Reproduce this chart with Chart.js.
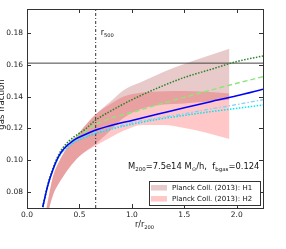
<!DOCTYPE html>
<html lang="en">
<head>
<meta charset="UTF-8">
<title>gas fraction</title>
<script src="https://cdn.jsdelivr.net/npm/chart.js"></script>
<style>
  body { margin: 0; background: #fff; }
  #wrap { width: 286px; height: 249px; }
</style>
</head>
<body>
<div id="wrap"><canvas id="chart" width="286" height="249"></canvas></div>
<script>
// radius grid (r/r200) for the model curves
const rCurve = [0.15, 0.2, 0.25, 0.3, 0.35, 0.45, 0.55, 0.65, 0.8, 1.0, 1.25, 1.5, 1.75, 2.0, 2.25];
const fBlue     = [0.0706, 0.0845, 0.0945, 0.1022, 0.1070, 0.1128, 0.1160, 0.1188, 0.1218, 0.1250, 0.1290, 0.1330, 0.1368, 0.1405, 0.1446];
const fDotGreen = [0.0706, 0.0852, 0.0955, 0.1033, 0.1085, 0.1148, 0.1192, 0.1250, 0.1310, 0.1380, 0.1455, 0.1520, 0.1570, 0.1620, 0.1655];
const fDashGreen= [0.0706, 0.0848, 0.0948, 0.1025, 0.1074, 0.1135, 0.1177, 0.1222, 0.1265, 0.1300, 0.1350, 0.1395, 0.1440, 0.1483, 0.1525];
const fDashDot  = [0.0706, 0.0845, 0.0945, 0.1018, 0.1065, 0.1118, 0.1150, 0.1175, 0.1200, 0.1235, 0.1265, 0.1292, 0.1322, 0.1350, 0.1380];
const fCyan     = [0.0706, 0.0845, 0.0945, 0.1015, 0.1060, 0.1112, 0.1143, 0.1168, 0.1195, 0.1226, 0.1257, 0.1282, 0.1305, 0.1326, 0.1347];

// Planck bands
const rBand = [0.18, 0.25, 0.3, 0.4, 0.5, 0.65, 0.8, 0.92, 1.1, 1.3, 1.5, 1.7, 1.93];
const h1Lo = [0.062, 0.0785, 0.0850, 0.0950, 0.1025, 0.1100, 0.1190, 0.1265, 0.1325, 0.1350, 0.1357, 0.1367, 0.1380];
const h1Hi = [0.068, 0.0904, 0.0985, 0.1095, 0.1175, 0.1285, 0.1370, 0.1440, 0.1495, 0.1555, 0.1605, 0.1650, 0.1700];
const h2Lo = [0.062, 0.0785, 0.0850, 0.0950, 0.1025, 0.1090, 0.1145, 0.1185, 0.1222, 0.1222, 0.1203, 0.1175, 0.1133];
const h2Hi = [0.068, 0.0904, 0.0985, 0.1095, 0.1175, 0.1285, 0.1355, 0.1400, 0.1425, 0.1433, 0.1435, 0.1430, 0.1420];

const r500 = 0.655;
const fBaryon = 0.161;
const xTicks = [0, 0.5, 1.0, 1.5, 2.0];
const yTicks = [0.08, 0.10, 0.12, 0.14, 0.16, 0.18];
const legendLabels = ['Planck Coll. (2013): H1', 'Planck Coll. (2013): H2'];

const H1_COLOR = 'rgba(165,42,42,0.25)';
const H2_COLOR = 'rgba(255,0,0,0.22)';
const FONT = '"DejaVu Sans", sans-serif';

const pts = (xs, ys) => xs.map((x, i) => ({ x: x, y: ys[i] }));

const curve = (data, color, dash, width) => ({
    data: data, borderColor: color, borderDash: dash, borderWidth: width,
    pointRadius: 0, fill: false, cubicInterpolationMode: 'monotone'
});

const datasets = [
    curve(pts(rCurve, fBlue), '#0000ff', [], 1.5),
    curve(pts(rCurve, fDotGreen), 'rgb(40,130,40)', [1.5, 1.5], 1.5),
    curve(pts(rCurve, fDashGreen), 'rgb(140,230,120)', [5, 3], 1.5),
    curve(pts(rCurve, fDashDot), 'rgb(135,206,250)', [4, 2, 1.5, 2], 1.3),
    curve(pts(rCurve, fCyan), 'rgb(0,230,240)', [1.5, 1.5], 1.5),
    // reference lines
    { data: [{ x: 0, y: fBaryon }, { x: 2.25, y: fBaryon }], borderColor: '#444', borderWidth: 1, pointRadius: 0, fill: false, tension: 0 },
    { data: [{ x: r500, y: 0.07 }, { x: r500, y: 0.195 }], borderColor: '#333', borderWidth: 1, borderDash: [3, 2, 1, 2], pointRadius: 0, fill: false, tension: 0 },
    { data: [{ x: 0, y: 0.07 }, { x: 0, y: fBaryon }], borderColor: '#1f3a8a', borderWidth: 1.5, pointRadius: 0, fill: false, tension: 0 },
    // bands: index 8/9 = H1, 10/11 = H2
    { data: pts(rBand, h1Lo), borderWidth: 0, pointRadius: 0, fill: false, cubicInterpolationMode: 'monotone' },
    { data: pts(rBand, h1Hi), borderWidth: 0, pointRadius: 0, fill: 8, backgroundColor: H1_COLOR, cubicInterpolationMode: 'monotone' },
    { data: pts(rBand, h2Lo), borderWidth: 0, pointRadius: 0, fill: false, cubicInterpolationMode: 'monotone' },
    { data: pts(rBand, h2Hi), borderWidth: 0, pointRadius: 0, fill: 10, backgroundColor: H2_COLOR, cubicInterpolationMode: 'monotone' }
];

// text with a subscript part, returns end x
function subText(ctx, parts, x, y, size) {
    parts.forEach(p => {
        if (p.sub) {
            ctx.font = (size * 0.65) + 'px ' + FONT;
            ctx.fillText(p.t, x, y + size * 0.25);
        } else {
            ctx.font = size + 'px ' + FONT;
            ctx.fillText(p.t, x, y);
        }
        x += ctx.measureText(p.t).width;
    });
    return x;
}

const decor = {
    id: 'decor',
    afterDraw(chart) {
        const ctx = chart.ctx;
        const a = chart.chartArea;
        const xs = chart.scales.x, ys = chart.scales.y;
        ctx.save();
        ctx.strokeStyle = '#333';
        ctx.lineWidth = 1;
        ctx.strokeRect(Math.round(a.left) + 0.5, Math.round(a.top) + 0.5, Math.round(a.right - a.left), Math.round(a.bottom - a.top));
        ctx.beginPath();
        xTicks.forEach(v => {
            const px = Math.round(xs.getPixelForValue(v)) + 0.5;
            ctx.moveTo(px, a.bottom); ctx.lineTo(px, a.bottom - 4);
            ctx.moveTo(px, a.top); ctx.lineTo(px, a.top + 4);
        });
        yTicks.forEach(v => {
            const py = Math.round(ys.getPixelForValue(v)) + 0.5;
            ctx.moveTo(a.left, py); ctx.lineTo(a.left + 4, py);
            ctx.moveTo(a.right, py); ctx.lineTo(a.right - 4, py);
        });
        ctx.stroke();

        ctx.fillStyle = '#111';
        ctx.textBaseline = 'alphabetic';
        ctx.textAlign = 'left';
        // r500 label
        subText(ctx, [{ t: 'r' }, { t: '500', sub: true }], xs.getPixelForValue(r500) + 5, a.top + 26, 8);
        // x title
        subText(ctx, [{ t: 'r/r' }, { t: '200', sub: true }], (a.left + a.right) / 2 - 10, 227, 8);
        // annotation
        subText(ctx, [
            { t: 'M' }, { t: '200', sub: true }, { t: '=7.5e14 M' }, { t: '\u2299', sub: true },
            { t: '/h,  f' }, { t: 'bgas', sub: true }, { t: '=0.124' }
        ], a.left + 101, 169, 8.4);
        // y title, partly cut by the left edge
        ctx.save();
        ctx.translate(1.5, (a.top + a.bottom) / 2 - 4);
        ctx.rotate(-Math.PI / 2);
        ctx.textAlign = 'center';
        ctx.textBaseline = 'middle';
        ctx.font = '8.5px ' + FONT;
        ctx.fillText('gas fraction', 0, 0);
        ctx.restore();

        // legend
        const lx = a.right - 114, ly = a.bottom - 27, lw = 111, lh = 24;
        ctx.fillStyle = '#fff';
        ctx.fillRect(lx, ly, lw, lh);
        ctx.strokeStyle = '#333';
        ctx.strokeRect(Math.round(lx) + 0.5, Math.round(ly) + 0.5, lw, lh);
        [H1_COLOR, H2_COLOR].forEach((c, i) => {
            const ry = ly + 6.5 + i * 11;
            ctx.fillStyle = c;
            ctx.fillRect(lx + 2, ry - 2.5, 16, 5.5);
            ctx.fillStyle = '#111';
            ctx.font = '7px ' + FONT;
            ctx.textBaseline = 'middle';
            ctx.fillText(legendLabels[i], lx + 23, ry + 0.5);
        });
        ctx.restore();
    }
};

new Chart(document.getElementById('chart'), {
    type: 'line',
    data: { datasets: datasets },
    plugins: [decor],
    options: {
        responsive: false,
        animation: false,
        devicePixelRatio: 1,
        layout: { padding: { top: 9, right: 23, left: 0, bottom: 0 } },
        plugins: { legend: { display: false }, tooltip: { enabled: false } },
        scales: {
            x: {
                type: 'linear', min: 0, max: 2.25,
                grid: { display: false, drawTicks: false, tickLength: 0 }, border: { display: false },
                afterBuildTicks: s => { s.ticks = xTicks.map(v => ({ value: v })); },
                afterFit: s => { s.height = 41; },
                ticks: { padding: 3, color: '#222', font: { family: FONT, size: 7.5 }, callback: v => v.toFixed(1), maxRotation: 0 }
            },
            y: {
                type: 'linear', min: 0.07, max: 0.195,
                grid: { display: false, drawTicks: false, tickLength: 0 }, border: { display: false },
                afterBuildTicks: s => { s.ticks = yTicks.map(v => ({ value: v })); },
                afterFit: s => { s.width = 27; },
                ticks: { padding: 4, color: '#222', font: { family: FONT, size: 7.5 }, callback: v => v.toFixed(2) }
            }
        }
    }
});
</script>
</body>
</html>
